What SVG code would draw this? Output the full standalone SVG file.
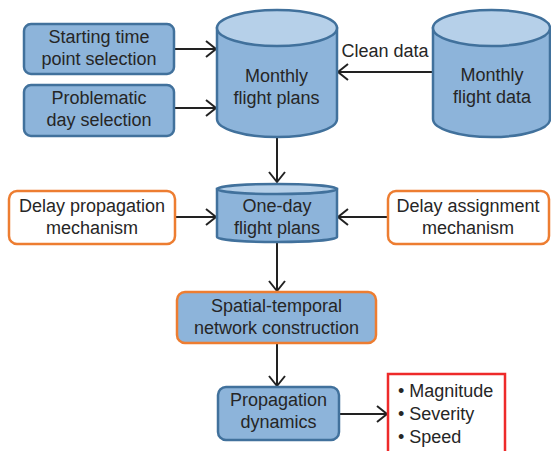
<svg xmlns="http://www.w3.org/2000/svg" width="551" height="451" viewBox="0 0 551 451">
<style>
text{font-family:"Liberation Sans",Arial,sans-serif;font-size:18px;fill:#262626;text-anchor:middle}
.blue{fill:#8db4da;stroke:#41719c;stroke-width:2.5}
.top{fill:#b6d0e9;stroke:#41719c;stroke-width:2.5}
.orange{fill:#fff;stroke:#ed7d31;stroke-width:2.5}
.orblue{fill:#8db4da;stroke:#ed7d31;stroke-width:2.5}
.red{fill:#fff;stroke:#ee2a2a;stroke-width:2.5}
.conn{stroke:#222;stroke-width:2;fill:none;marker-end:url(#arr)}
.l{text-anchor:start}
</style>
<defs>
<marker id="arr" markerWidth="14" markerHeight="18" refX="11" refY="9" orient="auto" markerUnits="userSpaceOnUse">
<path d="M1,1 L11,9 L1,17" fill="none" stroke="#222" stroke-width="2"/>
</marker>
</defs>
<g id="connectors">
<line class="conn" x1="174" y1="49" x2="216" y2="49"/>
<line class="conn" x1="174" y1="108" x2="216" y2="108"/>
<line class="conn" x1="433" y1="72" x2="338" y2="72"/>
<line class="conn" x1="277" y1="137" x2="277" y2="182"/>
<line class="conn" x1="175" y1="217" x2="216" y2="217"/>
<line class="conn" x1="388" y1="217" x2="338" y2="217"/>
<line class="conn" x1="277" y1="243" x2="277" y2="291"/>
<line class="conn" x1="277" y1="343" x2="277" y2="386"/>
<line class="conn" x1="339" y1="414" x2="387" y2="414"/>
<text x="385" y="57">Clean data</text>
</g>
<g id="starting">
<rect class="blue" x="24" y="24" width="150" height="50" rx="7"/>
<text x="99" y="43">Starting time</text>
<text x="99" y="65">point selection</text>
</g>
<g id="problematic">
<rect class="blue" x="24" y="85" width="150" height="51" rx="7"/>
<text x="99" y="104">Problematic</text>
<text x="99" y="126">day selection</text>
</g>
<g id="monthly-plans">
<path class="blue" d="M217,28 V119 A60,18 0 0 0 337,119 V28 Z"/>
<ellipse class="top" cx="277" cy="28" rx="60" ry="18"/>
<text x="276.5" y="82">Monthly</text>
<text x="276.5" y="104">flight plans</text>
</g>
<g id="monthly-data">
<path class="blue" d="M433,28 V119 A58.5,18 0 0 0 550,119 V28 Z"/>
<ellipse class="top" cx="491.5" cy="28" rx="58.5" ry="18"/>
<text x="492" y="81">Monthly</text>
<text x="492" y="103">flight data</text>
</g>
<g id="delay-prop">
<rect class="orange" x="9" y="191" width="166" height="53" rx="8"/>
<text x="92" y="212">Delay propagation</text>
<text x="92" y="234">mechanism</text>
</g>
<g id="one-day">
<path class="blue" d="M217,189 V237 A60,5 0 0 0 337,237 V189 Z"/>
<ellipse class="top" cx="277" cy="189" rx="60" ry="5"/>
<text x="277" y="212">One-day</text>
<text x="277" y="234">flight plans</text>
</g>
<g id="delay-assign">
<rect class="orange" x="388" y="191" width="161" height="53" rx="8"/>
<text x="468" y="212">Delay assignment</text>
<text x="468" y="234">mechanism</text>
</g>
<g id="spatial">
<rect class="orblue" x="177" y="292" width="199" height="51" rx="8"/>
<text x="276.5" y="312">Spatial-temporal</text>
<text x="276.5" y="334">network construction</text>
</g>
<g id="propagation">
<rect class="blue" x="218" y="387" width="121" height="53" rx="8"/>
<text x="278.5" y="406">Propagation</text>
<text x="278.5" y="428">dynamics</text>
</g>
<g id="metrics">
<rect class="red" x="388" y="374" width="117" height="90"/>
<text class="l" x="398" y="397">• Magnitude</text>
<text class="l" x="398" y="420">• Severity</text>
<text class="l" x="398" y="443">• Speed</text>
</g>
</svg>
